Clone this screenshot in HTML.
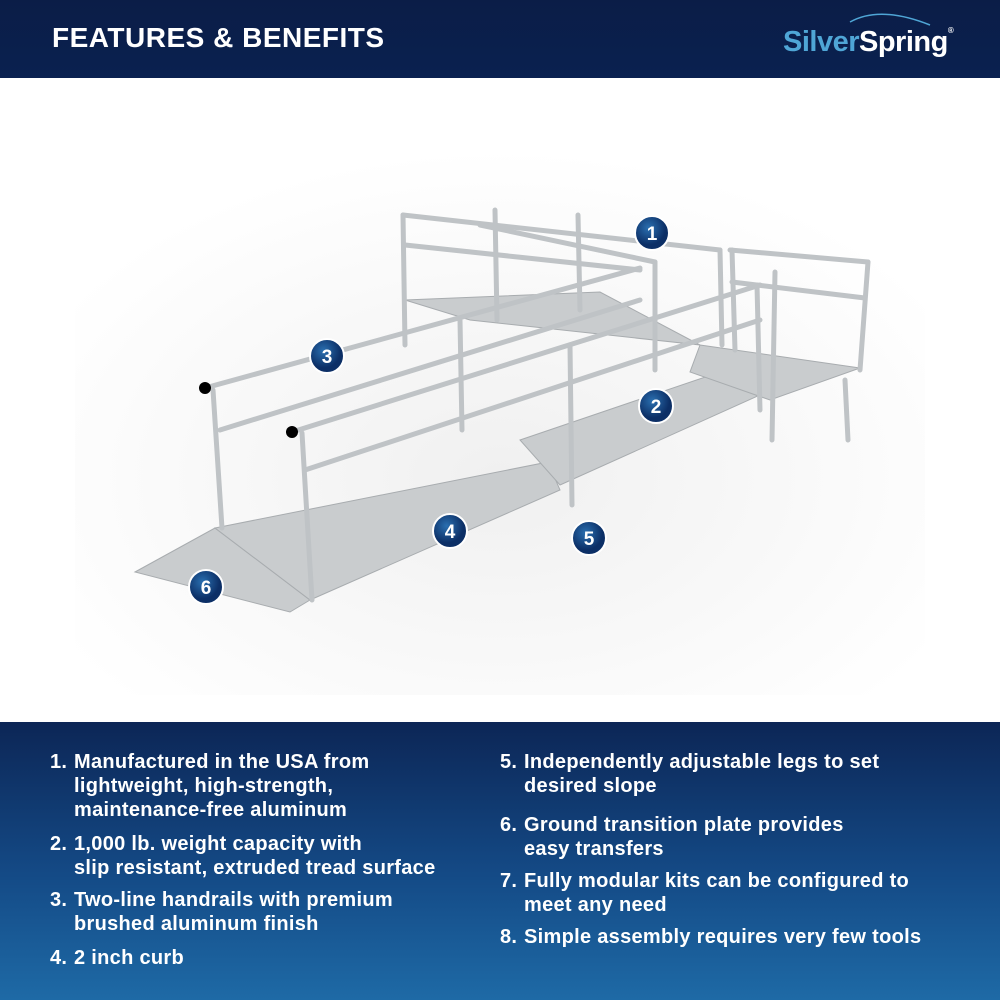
<!DOCTYPE html>
<html><head><style>
body{margin:0;width:1000px;height:1000px;overflow:hidden;font-family:"Liberation Sans",sans-serif;background:#fff;position:relative}
.hdr{position:absolute;left:0;top:0;width:1000px;height:78px;background:linear-gradient(180deg,#0b1d47,#0a2150)}
.hdr h1{position:absolute;left:52px;top:22px;margin:0;color:#fff;font-size:28px;font-weight:bold;letter-spacing:0.5px}
.logo{position:absolute;left:783px;top:26px;font-size:29px;font-weight:bold;letter-spacing:-0.5px}
.ftr{position:absolute;left:0;top:722px;width:1000px;height:278px;background:linear-gradient(180deg,#0c2656 0%,#144a86 55%,#1e6aa6 100%)}
.col{position:absolute;color:#fff;font-weight:bold;font-size:20px;line-height:24px;letter-spacing:0.3px;white-space:nowrap}
.col div{position:absolute;left:0}
.col span{display:inline-block;width:24px}
</style></head><body>
<div class="hdr"><h1>FEATURES &amp; BENEFITS</h1>
<div class="logo"><span style="color:#4fa6d6">Silver</span><span style="color:#fff">Spring</span><span style="color:#fff;font-size:8px;vertical-align:top">®</span></div>
<svg style="position:absolute;left:0;top:0" width="1000" height="78"><path d="M850 22 Q880 5 930 25" stroke="#4fa6d6" stroke-width="1.5" fill="none"/></svg>
</div>
<svg style="position:absolute;left:0;top:78px" width="1000" height="644" viewBox="0 78 1000 644">
<defs><radialGradient id="g" cx="40%" cy="35%"><stop offset="0" stop-color="#2a6fb0"/><stop offset="1" stop-color="#0c2f66"/></radialGradient>
<radialGradient id="fl" cx="50%" cy="60%" r="60%"><stop offset="0" stop-color="#f0f0f0"/><stop offset="1" stop-color="#fff"/></radialGradient></defs>
<rect x="75" y="150" width="850" height="545" fill="url(#fl)"/>
<g fill="#c9ccce" stroke="#a8acaf" stroke-width="1">
<polygon points="135,572 215,528 310,600 290,612"/>
<polygon points="215,528 548,462 560,490 310,600"/>
<polygon points="520,440 720,372 760,395 560,485"/>
<polygon points="700,345 860,368 770,400 690,372"/>
<polygon points="405,300 600,292 700,345 470,320"/>
</g>
<g stroke="#bfc3c6" stroke-width="5" fill="none" stroke-linecap="round">
<line x1="205" y1="388" x2="640" y2="268"/><line x1="220" y1="430" x2="640" y2="300"/>
<line x1="213" y1="390" x2="222" y2="528"/>
<line x1="292" y1="432" x2="760" y2="285"/><line x1="305" y1="470" x2="760" y2="320"/>
<line x1="302" y1="433" x2="312" y2="600"/>
<line x1="570" y1="345" x2="572" y2="505"/><line x1="460" y1="320" x2="462" y2="430"/>
<line x1="757" y1="285" x2="760" y2="410"/>
<line x1="403" y1="215" x2="720" y2="250"/><line x1="405" y1="245" x2="640" y2="270"/>
<line x1="403" y1="215" x2="405" y2="345"/><line x1="495" y1="210" x2="497" y2="320"/><line x1="578" y1="215" x2="580" y2="310"/>
<line x1="720" y1="250" x2="722" y2="345"/><line x1="730" y1="250" x2="868" y2="262"/>
<line x1="732" y1="282" x2="865" y2="298"/><line x1="732" y1="250" x2="735" y2="350"/>
<line x1="868" y1="262" x2="860" y2="370"/><line x1="775" y1="272" x2="772" y2="440"/>
<line x1="480" y1="225" x2="655" y2="262"/><line x1="655" y1="262" x2="655" y2="370"/>
<line x1="845" y1="380" x2="848" y2="440"/>
</g>
<circle cx="205" cy="388" r="6"/><circle cx="292" cy="432" r="6"/>
<g font-family="Liberation Sans" font-weight="bold" font-size="19" fill="#fff" text-anchor="middle">
<g><circle cx="652" cy="233" r="17" fill="url(#g)" stroke="#fff" stroke-width="2"/><text x="652" y="240">1</text></g>
<g><circle cx="656" cy="406" r="17" fill="url(#g)" stroke="#fff" stroke-width="2"/><text x="656" y="413">2</text></g>
<g><circle cx="327" cy="356" r="17" fill="url(#g)" stroke="#fff" stroke-width="2"/><text x="327" y="363">3</text></g>
<g><circle cx="450" cy="531" r="17" fill="url(#g)" stroke="#fff" stroke-width="2"/><text x="450" y="538">4</text></g>
<g><circle cx="589" cy="538" r="17" fill="url(#g)" stroke="#fff" stroke-width="2"/><text x="589" y="545">5</text></g>
<g><circle cx="206" cy="587" r="17" fill="url(#g)" stroke="#fff" stroke-width="2"/><text x="206" y="594">6</text></g>
</g>
</svg>
<div class="ftr">
<div class="col" style="left:50px;top:28px">
<div style="top:0"><span>1.</span>Manufactured in the USA from<br><span></span>lightweight, high-strength,<br><span></span>maintenance-free aluminum</div>
<div style="top:82px"><span>2.</span>1,000 lb. weight capacity with<br><span></span>slip resistant, extruded tread surface</div>
<div style="top:138px"><span>3.</span>Two-line handrails with premium<br><span></span>brushed aluminum finish</div>
<div style="top:196px"><span>4.</span>2 inch curb</div>
</div>
<div class="col" style="left:500px;top:28px">
<div style="top:0"><span>5.</span>Independently adjustable legs to set<br><span></span>desired slope</div>
<div style="top:63px"><span>6.</span>Ground transition plate provides<br><span></span>easy transfers</div>
<div style="top:119px"><span>7.</span>Fully modular kits can be configured to<br><span></span>meet any need</div>
<div style="top:175px"><span>8.</span>Simple assembly requires very few tools</div>
</div>
</div>
</body></html>
